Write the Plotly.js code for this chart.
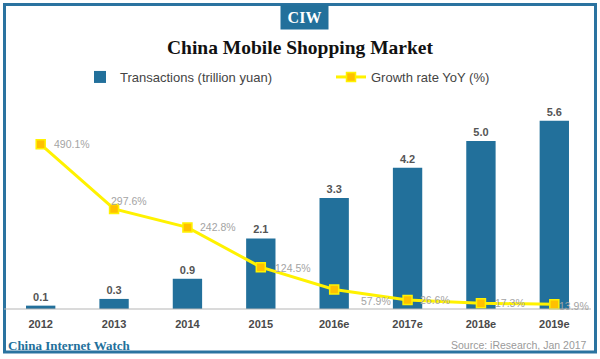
<!DOCTYPE html>
<html>
<head>
<meta charset="utf-8">
<script src="https://cdn.plot.ly/plotly-3.0.1.min.js"></script>
<style>
html,body{margin:0;padding:0;background:#fff;}
#chart{width:600px;height:359px;}
</style>
</head>
<body>
<div id="chart"></div>
<script>
// ---- data ----
var years = ['2012','2013','2014','2015','2016e','2017e','2018e','2019e'];
var transactions = [0.1, 0.3, 0.9, 2.1, 3.3, 4.2, 5.0, 5.6];
var growth = [490.1, 297.6, 242.8, 124.5, 57.9, 26.6, 17.3, 13.9];
var transLabels = ['0.1','0.3','0.9','2.1','3.3','4.2','5.0','5.6'];
var growthLabels = ['490.1%','297.6%','242.8%','124.5%','57.9%','26.6%','17.3%','13.9%'];

// ---- label offsets (style) ----
var gxs = [11, -5, 11, 12, 25, 10, 12, 3];
var gys = [0, 8, 0, -1, -11, 0, 0, -2];

var idx = years.map(function(_, i){ return i; });

var blue = '#22709b';
var W = 600, H = 359;
var mL = 4, mR = 9, mT = 100, mB = 50;
var pw = W - mL - mR, ph = H - mT - mB;
function px(x){ return (x - mL) / pw; }
function py(y){ return (H - mB - y) / ph; }

var traces = [
  {
    type: 'bar', x: idx, y: transactions, name: 'Transactions (trillion yuan)',
    marker: {color: blue}, width: 0.4,
    text: transLabels, textposition: 'outside', cliponaxis: false,
    textfont: {family: 'Liberation Sans, Arial, sans-serif', size: 11, color: '#555', weight: 'bold'},
    hoverinfo: 'skip', legend: 'legend'
  },
  {
    type: 'scatter', mode: 'lines+markers', x: idx, y: growth, yaxis: 'y2',
    name: 'Growth rate YoY (%)',
    line: {color: '#fff200', width: 3},
    marker: {symbol: 'square', size: 9, color: '#ffc000', line: {color: '#fff200', width: 1.5}},
    cliponaxis: false, hoverinfo: 'skip', legend: 'legend2'
  }
];

var annotations = growth.map(function(v, i){
  return {
    x: idx[i], y: v, xref: 'x', yref: 'y2', text: growthLabels[i],
    showarrow: false, xanchor: 'left', yanchor: 'middle',
    xshift: gxs[i], yshift: gys[i],
    font: {family: 'Liberation Sans, Arial, sans-serif', size: 10.5, color: '#a4a4a4'}
  };
});

annotations.push({
  x: px(304.5), y: py(17), xref: 'paper', yref: 'paper', text: '<b>CIW</b>',
  showarrow: false, xanchor: 'center', yanchor: 'middle',
  width: 45, height: 22, bgcolor: blue,
  font: {family: 'Liberation Serif, serif', size: 16, color: '#ffffff'}
});
annotations.push({
  x: px(6), y: py(345), xref: 'paper', yref: 'paper', text: '<b>China Internet Watch</b>',
  showarrow: false, xanchor: 'left', yanchor: 'middle',
  font: {family: 'Liberation Serif, serif', size: 13, color: blue}
});
annotations.push({
  x: px(589), y: py(345), xref: 'paper', yref: 'paper', text: 'Source: iResearch, Jan 2017',
  showarrow: false, xanchor: 'right', yanchor: 'middle',
  font: {family: 'Liberation Sans, Arial, sans-serif', size: 10.5, color: '#9a9a9a'}
});

var shapes = [
  {type: 'rect', xref: 'paper', yref: 'paper', x0: px(4.5), x1: px(595.5), y0: py(352), y1: py(4.5),
   line: {color: '#2a73a0', width: 3}, fillcolor: 'rgba(0,0,0,0)', layer: 'below'},
  {type: 'line', xref: 'paper', yref: 'paper', x0: 0, x1: 1, y0: 0, y1: 0,
   line: {color: '#b5b5b5', width: 1}}
];

var layout = {
  width: W, height: H,
  margin: {l: mL, r: mR, t: mT, b: mB, pad: 0},
  paper_bgcolor: '#ffffff', plot_bgcolor: '#ffffff',
  title: {
    text: '<b>China Mobile Shopping Market</b>',
    font: {family: 'Liberation Serif, serif', size: 19.5, color: '#111'},
    x: 0.5, xanchor: 'center', y: 1 - 47/H, yanchor: 'middle'
  },
  xaxis: {
    range: [-0.5, years.length - 0.5], autorange: false,
    tickmode: 'array', tickvals: idx, ticktext: years,
    showgrid: false, zeroline: false, showline: false, ticks: '',
    ticklabelstandoff: 7,
    tickfont: {family: 'Liberation Sans, Arial, sans-serif', size: 11, color: '#4a4a4a', weight: 'bold'},
    automargin: false
  },
  yaxis: {range: [0, 6.22], autorange: false, visible: false, showgrid: false, zeroline: false},
  yaxis2: {range: [0, 622], autorange: false, visible: false, overlaying: 'y', side: 'right', showgrid: false, zeroline: false},
  showlegend: true,
  legend: {
    orientation: 'h', x: px(80), y: py(77), xanchor: 'left', yanchor: 'middle',
    font: {family: 'Liberation Sans, Arial, sans-serif', size: 13, color: '#444'},
    bgcolor: 'rgba(0,0,0,0)'
  },
  legend2: {
    orientation: 'h', x: px(331), y: py(77), xanchor: 'left', yanchor: 'middle',
    font: {family: 'Liberation Sans, Arial, sans-serif', size: 13, color: '#444'},
    bgcolor: 'rgba(0,0,0,0)'
  },
  annotations: annotations,
  shapes: shapes
};

Plotly.newPlot('chart', traces, layout, {displayModeBar: false, staticPlot: true});
</script>
</body>
</html>
